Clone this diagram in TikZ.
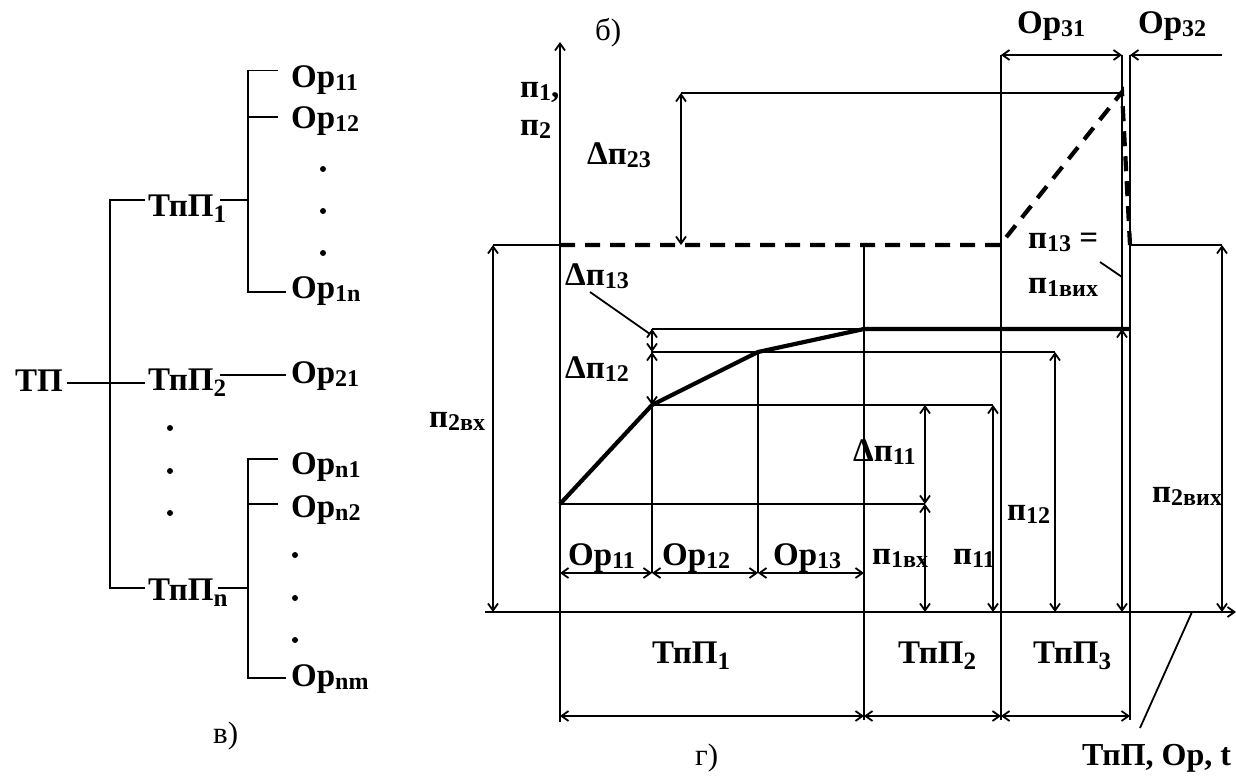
\documentclass[tikz,border=0pt]{standalone}
\usepackage{fontspec}
\setmainfont{Liberation Serif}
\usetikzlibrary{arrows.meta}
\newcommand\subx[1]{\raisebox{-0.12em}{\fontsize{24}{24}\selectfont #1}}
\newcommand\subl[1]{\raisebox{-0.2em}{\fontsize{25}{25}\selectfont #1}}
\begin{document}
\begin{tikzpicture}[x=1pt,y=-1pt,
  lbl/.style={inner sep=0pt, anchor=base west, font=\fontsize{33}{33}\selectfont\bfseries},
  plainlbl/.style={inner sep=0pt, anchor=base west, font=\fontsize{31}{31}\selectfont},
  ln/.style={line width=1.8pt},
  dimln/.style={line width=1.8pt, {Straight Barb[length=7pt,width=10pt]}-{Straight Barb[length=7pt,width=10pt]}},
  onearr/.style={line width=1.8pt, -{Straight Barb[length=7pt,width=10pt]}},
  thickcurve/.style={line width=4.2pt, line join=round},
  dsh/.style={line width=4.2pt, dash pattern=on 15pt off 10pt},
  tdot/.style={circle, fill, inner sep=0pt, minimum size=6pt}]
\useasboundingbox (0,0) rectangle (1236,777);

% ---------------- tree (v) ----------------
\node[lbl] (tp) at (15,391) {ТП};
\node[lbl] (tpp1) at (148,216) {ТпП\subl{1}};
\node[lbl] (tpp2) at (148,390) {ТпП\subl{2}};
\node[lbl] (tppn) at (148,600) {ТпП\subl{n}};
\node[lbl] (op11) at (291,87) {Ор\subx{11}};
\node[lbl] (op12) at (291,128) {Ор\subx{12}};
\node[lbl] (op1n) at (291,298) {Ор\subx{1n}};
\node[lbl] (op21) at (291,383) {Ор\subx{21}};
\node[lbl] (opn1) at (291,474) {Ор\subx{n1}};
\node[lbl] (opn2) at (291,517) {Ор\subx{n2}};
\node[lbl] (opnm) at (291,686) {Ор\subx{nm}};
\node[plainlbl] (lv) at (213,743) {в)};

\coordinate (trT) at (110,200);
\coordinate (trM) at (110,383);
\coordinate (trB) at (110,588);
\coordinate (b1t) at (248,70.5);
\coordinate (b1m) at (248,117);
\coordinate (b1c) at (248,200);
\coordinate (b1b) at (248,292);
\coordinate (bnt) at (248,459);
\coordinate (bnm) at (248,504);
\coordinate (bnc) at (248,588);
\coordinate (bnb) at (248,678);

\draw[ln] ([xshift=4pt]tp.east |- trM) -- ([xshift=-3pt]tpp2.west |- trM);
\draw[ln] ([xshift=-3pt]tpp1.west |- trT) -- (trT) -- (trB) -- ([xshift=-3pt]tppn.west |- trB);
\draw[ln] ([xshift=-13pt]op11.west |- b1t) -- (b1t) -- (b1b) -- ([xshift=-5pt]op1n.west |- b1b);
\draw[ln] (b1m) -- ([xshift=-13pt]op12.west |- b1m);
\draw[ln] ([xshift=-6pt]tpp1.east |- b1c) -- (b1c);
\draw[ln] ([xshift=-6pt]tpp2.east |- 0,375) -- ([xshift=-5pt]op21.west |- 0,375);
\draw[ln] ([xshift=-13pt]opn1.west |- bnt) -- (bnt) -- (bnb) -- ([xshift=-5pt]opnm.west |- bnb);
\draw[ln] (bnm) -- ([xshift=-13pt]opn2.west |- bnm);
\draw[ln] ([xshift=-10pt]tppn.east |- bnc) -- (bnc);

\foreach \i/\p in {a/{(323,169)},b/{(323,211)},c/{(323,253)},d/{(170,428)},e/{(170,471)},f/{(170,513)},g/{(295,555)},h/{(295,598)},k/{(295,640)}}
  \node[tdot] (dot\i) at \p {};

% ---------------- chart (b / g) ----------------
\coordinate (O) at (560,612);
\coordinate (yt) at (560,42);
\coordinate (xr) at (1236,612);
\draw[onearr] (560,722) -- (yt);
\draw[onearr] (485,612) -- (xr);

% curve
\coordinate (c0) at (560,504);
\coordinate (c1) at (652,405);
\coordinate (c2) at (758,352);
\coordinate (c3) at (864,329);
\coordinate (c4) at (1130,329);

% thin grid lines
\draw[ln] (c0) -- (925,504);
\draw[ln] (c1) -- (993,405);
\draw[ln] (652,352) -- (1055,352);
\draw[ln] (652,329) -- (c3);
\draw[ln] (652,329) -- (652,573);
\draw[ln] (c2) -- (758,573);
\draw[ln] (864,245) -- (864,720);
\draw[ln] (1001,55) -- (1001,720);
\draw[ln] (1122,55) -- (1122,329);
\draw[ln] (1130,55) -- (1130,720);
\draw[ln] (493,245) -- (560,245);
\draw[ln] (681,93) -- (1122,93);
\draw[ln] (1130,245) -- (1222,245);

\draw[thickcurve] (c0) -- (c1) -- (c2) -- (c3) -- (c4);
\draw[dsh] (560,245) -- (1000,245) -- (1122,92) -- (1130,245);

% dimensions
\draw[dimln] (560,573) -- (652,573);
\draw[dimln] (652,573) -- (758,573);
\draw[dimln] (758,573) -- (864,573);
\draw[dimln] (652,329) -- (652,352);
\draw[dimln] (652,352) -- (652,405);
\draw[dimln] (925,405) -- (925,504);
\draw[dimln] (925,504) -- (925,612);
\draw[dimln] (993,405) -- (993,612);
\draw[dimln] (1055,352) -- (1055,612);
\draw[dimln] (1122,329) -- (1122,612);
\draw[dimln] (1222,245) -- (1222,612);
\draw[dimln] (493,245) -- (493,612);
\draw[dimln] (681,93) -- (681,245);
\draw[dimln] (1001,55) -- (1122,55);
\draw[onearr] (1222,55) -- (1130,55);
\draw[dimln] (560,716) -- (864,716);
\draw[dimln] (864,716) -- (1001,716);
\draw[dimln] (1001,716) -- (1130,716);

% leaders
\draw[ln] (590,292) -- (650,334);
\draw[ln] (1100,262) -- (1122,277);
\draw[ln] (1192,612) -- (1140,728);

% labels
\node[plainlbl] (lb) at (595,40) {б)};
\node[lbl] (lp1) at (520,97) {п\subx{1},};
\node[lbl] (lp2) at (520,135) {п\subx{2}};
\node[lbl] (ld23) at (587,164) {Δп\subx{23}};
\node[lbl] (ld13) at (565,285) {Δп\subx{13}};
\node[lbl] (ld12) at (565,378) {Δп\subx{12}};
\node[lbl] (ld11) at (853,461) {Δп\subx{11}};
\node[lbl] (lp1vx) at (872,564) {п\subx{1вх}};
\node[lbl] (lp11) at (953,564) {п\subx{11}};
\node[lbl] (lp12) at (1007,520) {п\subx{12}};
\node[lbl] (lp2vyx) at (1152,502) {п\subx{2вих}};
\node[lbl] (lp2vx) at (429,427) {п\subx{2вх}};
\node[lbl] (lp13) at (1028,248) {п\subx{13} =};
\node[lbl] (lp1vyx) at (1028,293) {п\subx{1вих}};
\node[lbl] (lop31) at (1017,33) {Ор\subx{31}};
\node[lbl] (lop32) at (1138,33) {Ор\subx{32}};
\node[lbl] (cop11) at (568,565) {Ор\subx{11}};
\node[lbl] (cop12) at (662,565) {Ор\subx{12}};
\node[lbl] (cop13) at (773,565) {Ор\subx{13}};
\node[lbl] (ctpp1) at (652,663) {ТпП\subl{1}};
\node[lbl] (ctpp2) at (898,663) {ТпП\subl{2}};
\node[lbl] (ctpp3) at (1033,663) {ТпП\subl{3}};
\node[lbl, font=\fontsize{32}{32}\selectfont\bfseries] (laxis) at (1082,765) {ТпП, Ор, t};
\node[plainlbl] (lg) at (695,765) {г)};
\end{tikzpicture}
\end{document}
